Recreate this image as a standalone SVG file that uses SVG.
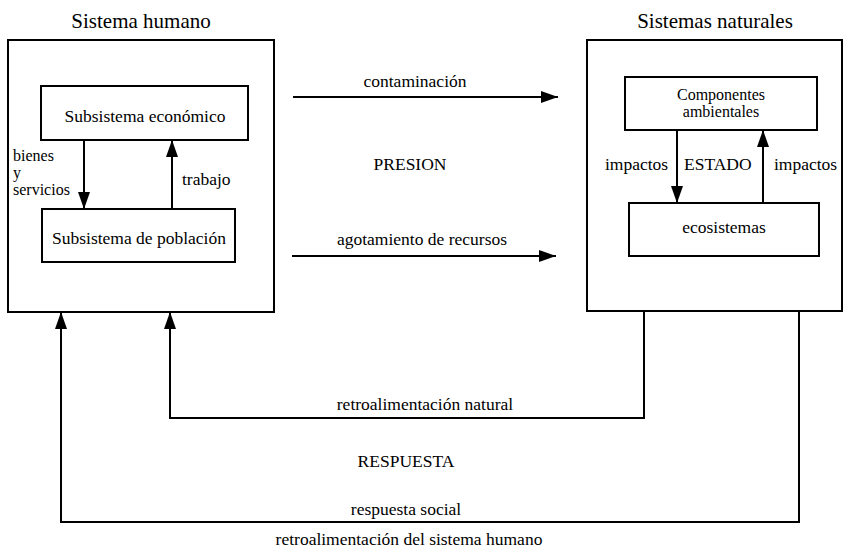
<svg xmlns="http://www.w3.org/2000/svg" width="852" height="548" viewBox="0 0 852 548">
<style>
text{font-family:'Liberation Serif','DejaVu Serif',serif;font-size:17.5px;fill:#000}
.t{font-size:21px}
.s{font-size:16px}
.c{text-anchor:middle}
.box{fill:#fff;stroke:#000;stroke-width:2}
.ln{fill:none;stroke:#000;stroke-width:2}
</style>
<defs>
<marker id="ah" markerUnits="userSpaceOnUse" markerWidth="18" markerHeight="12" refX="17" refY="6" orient="auto">
<path d="M0,0 L17,6 L0,12 z" fill="#000"/>
</marker>
</defs>
<rect width="852" height="548" fill="#fff"/>
<g id="sistema-humano">
<text class="t c" x="141" y="28">Sistema humano</text>
<rect class="box" x="8" y="40" width="266" height="272"/>
</g>
<g id="subsistema-economico">
<rect class="box" x="41" y="86" width="207" height="54"/>
<text class="c" x="145" y="122">Subsistema económico</text>
</g>
<g id="subsistema-poblacion">
<rect class="box" x="42" y="209" width="193" height="53"/>
<text class="c" x="139" y="244">Subsistema de población</text>
</g>
<g id="sistemas-naturales">
<text class="t c" x="715" y="28">Sistemas naturales</text>
<rect class="box" x="587" y="40" width="255" height="271"/>
</g>
<g id="componentes-ambientales">
<rect class="box" x="625" y="77" width="192" height="53"/>
<text class="c s" x="721" y="100">Componentes</text>
<text class="c s" x="721" y="117">ambientales</text>
</g>
<g id="ecosistemas">
<rect class="box" x="629" y="203" width="190" height="53"/>
<text class="c" x="724" y="233">ecosistemas</text>
</g>
<g id="connectors">
<line class="ln" x1="84" y1="140" x2="84" y2="209" marker-end="url(#ah)"/>
<line class="ln" x1="172" y1="209" x2="172" y2="140" marker-end="url(#ah)"/>
<line class="ln" x1="677" y1="130" x2="677" y2="203" marker-end="url(#ah)"/>
<line class="ln" x1="763" y1="203" x2="763" y2="130" marker-end="url(#ah)"/>
<line class="ln" x1="293" y1="97" x2="558" y2="97" marker-end="url(#ah)"/>
<line class="ln" x1="292" y1="256" x2="556" y2="256" marker-end="url(#ah)"/>
<polyline class="ln" points="644,311 644,418 170,418 170,312" marker-end="url(#ah)"/>
<polyline class="ln" points="799,311 799,522 61,522 61,312" marker-end="url(#ah)"/>
</g>
<g id="labels">
<text class="s" x="13" y="161">bienes</text>
<text class="s" x="13" y="178">y</text>
<text class="s" x="13" y="195">servicios</text>
<text x="182" y="185">trabajo</text>
<text x="605" y="170">impactos</text>
<text x="684" y="170">ESTADO</text>
<text x="774" y="170">impactos</text>
<text class="c" x="415" y="87">contaminación</text>
<text class="c" x="410" y="170">PRESION</text>
<text class="c" x="422" y="245">agotamiento de recursos</text>
<text class="c" x="425" y="410">retroalimentación natural</text>
<text class="c" x="406" y="467">RESPUESTA</text>
<text class="c" x="406" y="515">respuesta social</text>
<text class="c" x="409" y="545">retroalimentación del sistema humano</text>
</g>
</svg>
